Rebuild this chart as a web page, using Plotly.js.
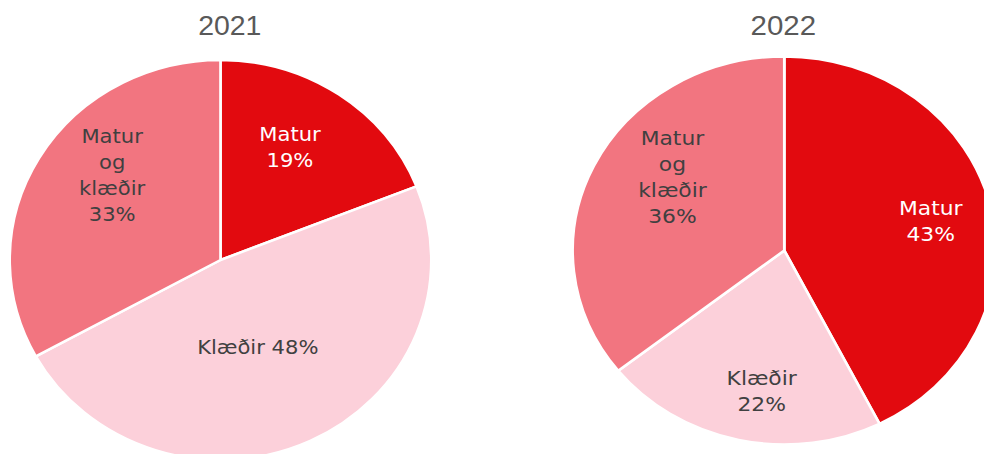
<!DOCTYPE html>
<html><head><meta charset="utf-8">
<script src="https://cdn.plot.ly/plotly-3.0.1.min.js"></script>
<style>
html,body{margin:0;padding:0;background:#fff;}
#wrap{position:relative;width:984px;height:454px;overflow:hidden;background:#fff;}
.pane{position:absolute;top:0;transform-origin:0 0;}
</style></head><body>
<div id="wrap"><div id="p2021" class="pane"></div><div id="p2022" class="pane"></div></div>
<script>
const categories = ['Matur', 'Klæðir', 'Matur og klæðir'];
const years = ['2021', '2022'];
const values2021 = [19, 48, 33];
const values2022 = [43, 22, 36];
const labelLines2021 = ['Matur<br>', 'Klæðir ', 'Matur<br>og<br>klæðir<br>'];
const labelLines2022 = ['Matur<br>', 'Klæðir<br>', 'Matur<br>og<br>klæðir<br>'];
const colors = ['#E20A0F', '#FCD0DA', '#F27580'];
const textColors = ['#FFFFFF', '#404040', '#404040'];

const W = 480, H = 520;
function draw(id, title, values, labelLines, cfg) {
  const el = document.getElementById(id);
  el.style.left = cfg.left + 'px';
  el.style.width = W + 'px';
  el.style.height = H + 'px';
  el.style.transform = 'scaleX(' + cfg.scale + ')';
  const ux = (cfg.cx - cfg.left) / cfg.scale;
  const trace = {
    type: 'pie',
    labels: categories,
    values: values,
    sort: false,
    direction: 'clockwise',
    rotation: 0,
    textinfo: 'none',
    marker: {colors: colors, line: {color: '#FFFFFF', width: 2.5}},
    hoverinfo: 'none',
    domain: {
      x: [(ux - cfg.r) / W, (ux + cfg.r) / W],
      y: [(H - (cfg.cy + cfg.r)) / H, (H - (cfg.cy - cfg.r)) / H]
    }
  };
  const total = values.reduce((a, b) => a + b, 0);
  let cum = 0;
  const labelAnns = values.map((v, i) => {
    const mid = (cum + v / 2) / total * 360 + cfg.dAng[i];
    cum += v;
    const th = mid * Math.PI / 180;
    const d = cfg.k[i] * cfg.r;
    return {
      text: labelLines[i] + Math.round(v / total * 100) + '%',
      showarrow: false, xref: 'paper', yref: 'paper',
      x: (ux + d * Math.sin(th)) / W,
      y: (H - (cfg.cy - d * Math.cos(th))) / H,
      xanchor: 'center', yanchor: 'middle', align: 'center',
      font: {family: 'DejaVu Sans, Verdana, sans-serif', size: 20, color: textColors[i]}
    };
  });
  const layout = {
    width: W, height: H,
    margin: {l: 0, r: 0, t: 0, b: 0},
    showlegend: false,
    paper_bgcolor: 'rgba(0,0,0,0)',
    annotations: [{
      text: title, showarrow: false, xref: 'paper', yref: 'paper',
      x: ((cfg.titleX - cfg.left) / cfg.scale) / W, y: (H - 26) / H,
      xanchor: 'center', yanchor: 'middle',
      font: {family: 'Liberation Sans, Arial, sans-serif', size: 27, color: '#595959'}
    }].concat(labelAnns)
  };
  Plotly.newPlot(el, [trace], layout, {staticPlot: true, displayModeBar: false});
}
draw('p2021', years[0], values2021, labelLines2021,
  {left: 0, scale: 1.054, cx: 220.5, cy: 260, r: 200, titleX: 229.5,
   k: [0.657, 0.47, 0.665], dAng: [-3.8, 3.0, 9.1]});
draw('p2022', years[1], values2022, labelLines2022,
  {left: 540, scale: 1.091, cx: 784.3, cy: 250.5, r: 194, titleX: 783,
   k: [0.708, 0.73, 0.65], dAng: [0.9, -4.2, 10]});
</script>
</body></html>
